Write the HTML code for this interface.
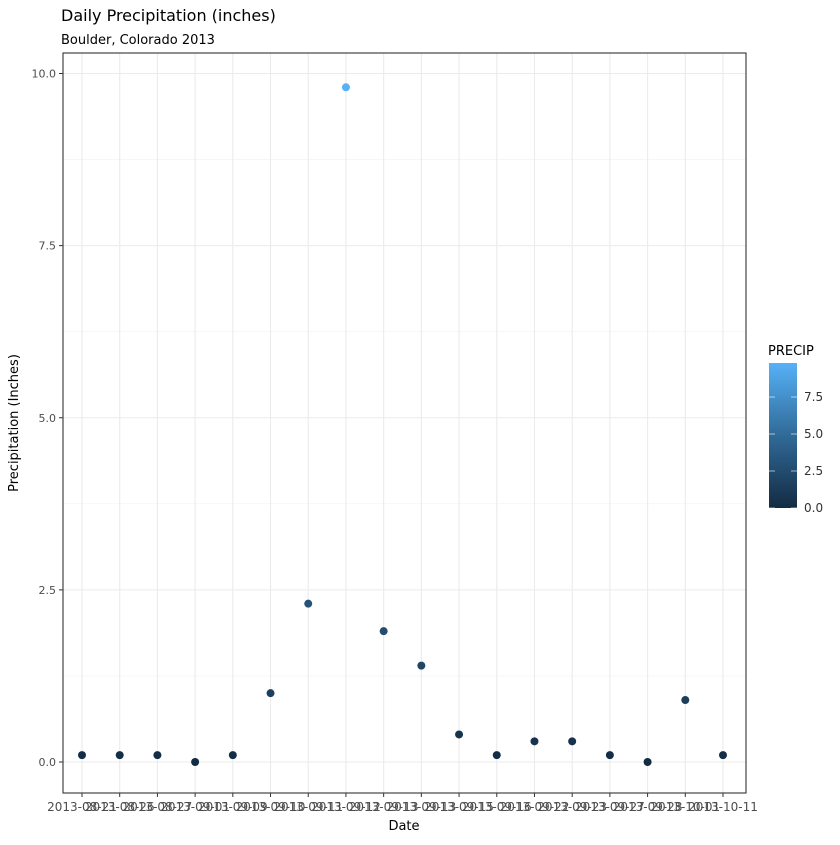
<!DOCTYPE html>
<html><head><meta charset="utf-8"><style>
body{margin:0;background:#fff;font-family:"Liberation Sans","DejaVu Sans",sans-serif}
</style></head><body>
<svg width="840" height="840" xmlns="http://www.w3.org/2000/svg" font-family="DejaVu Sans, Liberation Sans, sans-serif">
<defs><linearGradient id="g" x1="0" y1="1" x2="0" y2="0"><stop offset="0" stop-color="#132B43"/><stop offset="0.5" stop-color="#306A98"/><stop offset="1" stop-color="#56B1F7"/></linearGradient></defs>
<text x="61" y="21" font-size="16" fill="#000">Daily Precipitation (inches)</text>
<text x="61" y="44" font-size="13" fill="#000">Boulder, Colorado 2013</text>
<g id="grid"></g>
<g id="pts"></g>
<rect x="63" y="53" width="683" height="740" fill="none" stroke="#333" stroke-width="1.1"/>
<g id="axes"></g>
<text x="404" y="830" font-size="13" text-anchor="middle">Date</text>
<text transform="translate(18,423) rotate(-90)" font-size="13" text-anchor="middle">Precipitation (Inches)</text>
<g>
<text x="768" y="355" font-size="13">PRECIP</text>
<rect x="769" y="363" width="28" height="145" fill="url(#g)"/>
<g id="leg"></g>
</g>
</svg>
<script>
const categories=["2013-08-21","2013-08-26","2013-08-27","2013-09-01","2013-09-09","2013-09-10","2013-09-11","2013-09-12","2013-09-13","2013-09-13","2013-09-15","2013-09-16","2013-09-22","2013-09-23","2013-09-27","2013-09-28","2013-10-01","2013-10-11"];
const precip=[0.1,0.1,0.1,0,0.1,1.0,2.3,9.8,1.9,1.4,0.4,0.1,0.3,0.3,0.1,0,0.9,0.1];
const yTicks=[0,2.5,5,7.5,10];
const yTickLabels=["0.0","2.5","5.0","7.5","10.0"];
const legTicks=[0,2.5,5,7.5];
const legLabels=["0.0","2.5","5.0","7.5"];
const NS="http://www.w3.org/2000/svg";
const x=i=>82+i*(723-82)/(categories.length-1);
const y=v=>762-v*68.85;
const mx=Math.max(...precip),mn=Math.min(...precip);
function col(v){let t=(v-mn)/(mx-mn);t=Math.pow(t,0.85);const a=[0x13,0x2B,0x43],b=[0x56,0xB1,0xF7];return `rgb(${a.map((c,k)=>Math.round(c+(b[k]-c)*t)).join(',')})`;}
function mk(tag,at,parent){const e=document.createElementNS(NS,tag);for(const k in at)e.setAttribute(k,at[k]);parent.appendChild(e);return e;}
const grid=document.getElementById('grid'),axes=document.getElementById('axes'),pts=document.getElementById('pts'),leg=document.getElementById('leg');
for(let i=0;i<yTicks.length-1;i++){const v=(yTicks[i]+yTicks[i+1])/2;const l=mk('line',{x1:63,x2:746,y1:y(v),y2:y(v),stroke:'#f2f2f2','stroke-width':0.6},grid);}
yTicks.forEach((v,i)=>{const l=mk('line',{x1:63,x2:746,y1:y(v),y2:y(v),stroke:'#ebebeb','stroke-width':1.1},grid);
const t=mk('line',{x1:59,x2:63,y1:y(v),y2:y(v),stroke:'#333'},axes);
const tx=mk('text',{x:56,y:y(v)+4,'font-size':11,'text-anchor':'end',fill:'#4d4d4d'},axes);tx.textContent=yTickLabels[i];});
categories.forEach((c,i)=>{const l=mk('line',{x1:x(i),x2:x(i),y1:53,y2:793,stroke:'#ebebeb','stroke-width':1.1},grid);
const t=mk('line',{x1:x(i),x2:x(i),y1:793,y2:797,stroke:'#333'},axes);
const tx=mk('text',{x:x(i),y:811,'font-size':12,'text-anchor':'middle',fill:'#4d4d4d'},axes);tx.textContent=c;});
precip.forEach((v,i)=>{const p=mk('circle',{cx:x(i),cy:y(v),r:4,fill:col(v)},pts);});
const ly=v=>363+(mx-v)/mx*145;
legTicks.forEach((v,i)=>{mk('line',{x1:769,x2:775,y1:ly(v),y2:ly(v),stroke:'#fff','stroke-opacity':0.6},leg);mk('line',{x1:791,x2:797,y1:ly(v),y2:ly(v),stroke:'#fff','stroke-opacity':0.6},leg);
const tx=mk('text',{x:804,y:ly(v)+4,'font-size':12,fill:'#333'},leg);tx.textContent=legLabels[i];});
</script>
</body></html>
